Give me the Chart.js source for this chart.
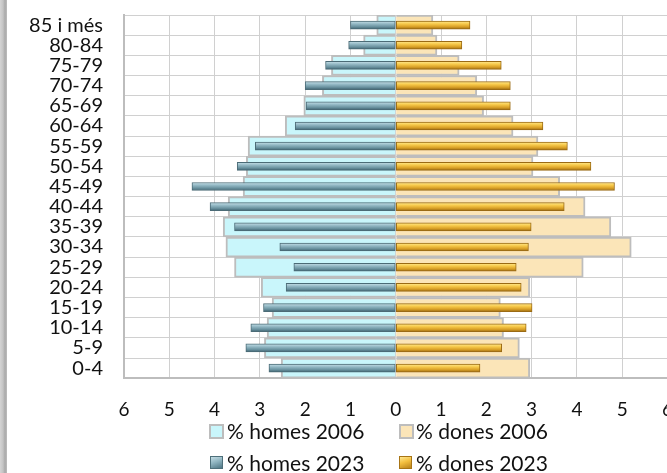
<!DOCTYPE html>
<html>
<head>
<meta charset="utf-8">
<script src="https://cdn.jsdelivr.net/npm/chart.js@4/dist/chart.umd.min.js"></script>
<style>
  html, body { margin:0; padding:0; background:#fff; }
  #wrap { position:relative; width:667px; height:473px; overflow:hidden; }
  #strip { position:absolute; left:0; top:0; width:7px; height:473px;
    background:linear-gradient(to right,#d4d4d4 0,#c4c4c4 3px,#a9a9a9 5px,#bdbdbd 7px); }
  #pyr { position:absolute; left:0; top:-18px; }
  .leg { position:absolute; font-family:Lato, sans-serif; font-size:21px; color:#111;
    line-height:22px; white-space:nowrap; }
  .box { position:absolute; width:11px; height:11px; }
</style>
</head>
<body>
<div id="wrap">
  <canvas id="pyr" width="693" height="491"></canvas>
  <div id="strip"></div>
  <div class="box" style="left:209px;top:424px;background:#c9f6fb;border:2px solid #bdbdbd"></div>
  <div class="leg" style="left:227px;top:420px">% homes 2006</div>
  <div class="box" style="left:399px;top:424px;background:#fbe5b8;border:2px solid #bdbdbd"></div>
  <div class="leg" style="left:416px;top:420px">% dones 2006</div>
  <div class="box" style="left:210px;top:456px;width:13px;height:13px;background:linear-gradient(160deg,#c4dde5 0,#8fb4c0 45%,#4e7684 100%);border:1px solid #4e6f7a;box-sizing:border-box"></div>
  <div class="leg" style="left:227px;top:452px">% homes 2023</div>
  <div class="box" style="left:399px;top:456px;width:13px;height:13px;background:linear-gradient(160deg,#ffe891 0,#f3bf3f 45%,#b9821a 100%);border:1px solid #a87516;box-sizing:border-box"></div>
  <div class="leg" style="left:416px;top:452px">% dones 2023</div>
</div>
<script>
// grups d'edat, de dalt a baix
const edats = ["85 i més","80-84","75-79","70-74","65-69","60-64","55-59","50-54","45-49","40-44","35-39","30-34","25-29","20-24","15-19","10-14","5-9","0-4"]
// percentatges llegits del gràfic
const homes2006 = [0.42,0.71,1.42,1.62,2.03,2.44,3.26,3.3,3.37,3.7,3.81,3.75,3.56,2.97,2.73,2.84,2.9,2.53]
const dones2006 = [0.82,0.91,1.4,1.79,1.94,2.59,3.14,3.03,3.62,4.18,4.75,5.2,4.14,2.96,2.31,2.38,2.73,2.96]
const homes2023 = [1.0,1.04,1.55,2.0,1.98,2.22,3.1,3.5,4.5,4.1,3.56,2.56,2.25,2.42,2.92,3.2,3.31,2.8]
const dones2023 = [1.64,1.46,2.33,2.53,2.53,3.25,3.79,4.31,4.83,3.72,2.99,2.93,2.66,2.77,3.01,2.88,2.34,1.86]
const ticksX = [-6,-5,-4,-3,-2,-1,0,1,2,3,4,5,6]

function barGradient(stops, fallback){
  return function(ctx){
    const chart = ctx.chart
    if(!chart.chartArea || !chart.scales.y) return fallback
    const yc = chart.scales.y.getPixelForValue(ctx.dataIndex)
    const g = chart.ctx.createLinearGradient(0, yc-4, 0, yc+4)
    g.addColorStop(0, stops[0])
    g.addColorStop(0.35, stops[1])
    g.addColorStop(0.7, stops[2])
    g.addColorStop(1, stops[3])
    return g
  }
}

const data = {
  labels: edats,
  datasets: [
    {
      label: '% homes 2006',
      data: homes2006.map(v => -v),
      backgroundColor: '#c9f6fb',
      borderColor: '#bdbdbd',
      borderWidth: 2,
      grouped: false,
      categoryPercentage: 1,
      barPercentage: 1,
      order: 2
    },
    {
      label: '% dones 2006',
      data: dones2006,
      backgroundColor: '#fbe5b8',
      borderColor: '#bdbdbd',
      borderWidth: 2,
      grouped: false,
      categoryPercentage: 1,
      barPercentage: 1,
      order: 2
    },
    {
      label: '% homes 2023',
      data: homes2023.map(v => -v),
      backgroundColor: barGradient(['#c6e0e8','#93b8c4','#6a929f','#3f6270'], '#7fa3b0'),
      borderColor: '#4b6b76',
      borderWidth: 1,
      borderSkipped: false,
      grouped: false,
      barThickness: 8,
      order: 1
    },
    {
      label: '% dones 2023',
      data: dones2023,
      backgroundColor: barGradient(['#ffe98f','#f7c94a','#d9a027','#9e6d12'], '#eab43a'),
      borderColor: '#9a6a14',
      borderWidth: 1,
      borderSkipped: false,
      grouped: false,
      barThickness: 8,
      order: 1
    }
  ]
}

const config = {
  type: 'bar',
  data: data,
  options: {
    indexAxis: 'y',
    responsive: false,
    animation: false,
    layout: { autoPadding: false, padding: { top: 0, right: 0, bottom: 32, left: 0 } },
    plugins: { legend: { display: false }, tooltip: { enabled: false } },
    scales: {
      x: {
        min: -6, max: 6,
        afterBuildTicks: (s) => { s.ticks = ticksX.map(v => ({ value: v })) },
        ticks: {
          callback: (v) => Math.abs(v),
          font: { family: 'Lato', size: 19 },
          color: '#111',
          padding: 20,
          maxRotation: 0,
          autoSkip: false
        },
        grid: { color: '#d0d0d0', lineWidth: 1, drawTicks: false },
        border: { color: '#bdbdbd', width: 2 }
      },
      y: {
        afterFit: (s) => { s.width = 124 },
        ticks: {
          font: { family: 'Lato', size: 20 },
          color: '#111',
          padding: 21,
          autoSkip: false
        },
        grid: { color: '#d0d0d0', lineWidth: 1, drawTicks: false },
        border: { color: '#bdbdbd', width: 2 }
      }
    }
  }
}

new Chart(document.getElementById('pyr'), config)
</script>
</body>
</html>
